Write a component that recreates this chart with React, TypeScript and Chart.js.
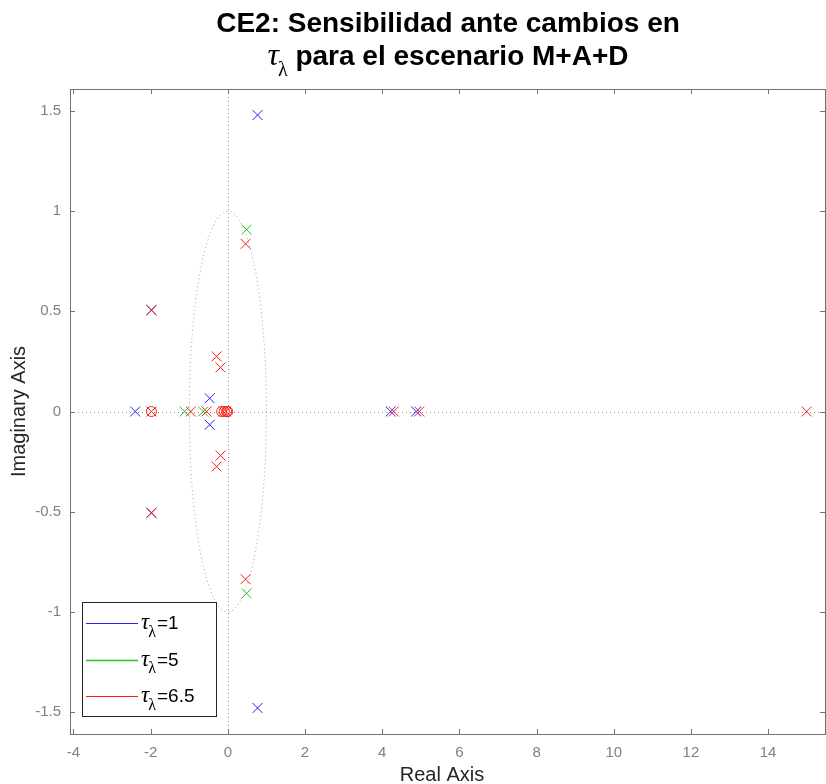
import React, { useEffect, useRef } from 'react';
import { Chart, registerables } from 'chart.js';
Chart.register(...registerables);

// ---- axis data ----
const xTicks = [-4, -2, 0, 2, 4, 6, 8, 10, 12, 14];
const yTicks = [-1.5, -1, -0.5, 0, 0.5, 1, 1.5];
const xMin = -4.09;
const xMax = 15.5;
const yMin = -1.61;
const yMax = 1.61;
const unitRadius = 1;

// ---- series: tau_lambda = 1 (poles) ----
const poles1Re = [0.77, 0.77, -1.98, -1.98, -2.4, -0.47, -0.47, 4.22, 4.88];
const poles1Im = [1.48, -1.48, 0.506, -0.506, 0, 0.066, -0.066, 0, 0];
// ---- series: tau_lambda = 5 (poles) ----
const poles5Re = [0.485, 0.485, -1.12, -0.64];
const poles5Im = [0.908, -0.908, 0, 0];
// ---- series: tau_lambda = 6.5 (poles) ----
const poles65Re = [0.46, 0.46, -0.29, -0.29, -0.19, -0.19, -0.96, -0.55, -0.12, -0.05, -1.98, -1.98, -1.98, 4.3, 4.96, 15.0];
const poles65Im = [0.837, -0.837, 0.275, -0.275, 0.22, -0.22, 0, 0, 0, 0, 0.506, -0.506, 0, 0, 0, 0];
// ---- zeros (tau_lambda = 6.5 drawn on top) ----
const zeros65Re = [-1.98, -0.16, -0.09, -0.03, 0.0];
const zeros65Im = [0, 0, 0, 0, 0];

const titleLine1 = 'CE2: Sensibilidad ante cambios en';
const titleLine2 = ' para el escenario M+A+D';
const legendValues = ['=1', '=5', '=6.5'];
const xLabel = 'Real Axis';
const yLabel = 'Imaginary Axis';

const colBlue = '#2222ff';
const colGreen = '#28c028';
const colRed = '#ff1a1a';
const sans = '"Liberation Sans", Arial, Helvetica, sans-serif';
const serif = '"Liberation Serif", "Times New Roman", serif';

const pts = (re: number[], im: number[]) => re.map((v, i) => ({ x: v, y: im[i] }));

function drawTauLambda(ctx: CanvasRenderingContext2D, x: number, y: number, size: number, subSize: number): number {
  ctx.font = `italic ${size}px ${serif}`;
  ctx.textAlign = 'left';
  ctx.fillText('τ', x, y);
  const wt = ctx.measureText('τ').width;
  ctx.font = `${subSize}px ${serif}`;
  ctx.fillText('λ', x + wt - 1, y + size * 0.33);
  const wl = ctx.measureText('λ').width;
  return wt - 1 + wl;
}
function tauLambdaWidth(ctx: CanvasRenderingContext2D, size: number, subSize: number): number {
  ctx.font = `italic ${size}px ${serif}`;
  const wt = ctx.measureText('τ').width;
  ctx.font = `${subSize}px ${serif}`;
  return wt - 1 + ctx.measureText('λ').width;
}

const overlay = {
  id: 'overlay',
  beforeDatasetsDraw(chart: any) {
    const { ctx, chartArea: a, scales } = chart;
    const xs = scales.x, ys = scales.y;
    ctx.save();
    ctx.strokeStyle = '#8c8c8c';
    ctx.lineWidth = 1;
    ctx.setLineDash([1, 3]);
    const x0 = Math.round(xs.getPixelForValue(0)) + 0.5;
    const y0 = Math.round(ys.getPixelForValue(0)) + 0.5;
    ctx.beginPath();
    ctx.moveTo(x0, a.top);
    ctx.lineTo(x0, a.bottom);
    ctx.moveTo(a.left, y0);
    ctx.lineTo(a.right, y0);
    ctx.stroke();
    const rx = xs.getPixelForValue(unitRadius) - xs.getPixelForValue(0);
    const ry = ys.getPixelForValue(0) - ys.getPixelForValue(unitRadius);
    ctx.strokeStyle = '#999999';
    ctx.beginPath();
    ctx.ellipse(xs.getPixelForValue(0), ys.getPixelForValue(0), rx, ry, 0, 0, Math.PI * 2);
    ctx.stroke();
    ctx.restore();
  },
  afterDraw(chart: any) {
    const { ctx, chartArea: a, scales } = chart;
    const xs = scales.x, ys = scales.y;
    ctx.save();
    // frame
    ctx.strokeStyle = '#737373';
    ctx.lineWidth = 1;
    ctx.setLineDash([]);
    ctx.strokeRect(Math.round(a.left) + 0.5, Math.round(a.top) + 0.5, Math.round(a.right - a.left) - 1, Math.round(a.bottom - a.top));
    // ticks (inward)
    const tl = 5;
    ctx.beginPath();
    xTicks.forEach((v) => {
      const px = Math.round(xs.getPixelForValue(v)) + 0.5;
      ctx.moveTo(px, a.bottom);
      ctx.lineTo(px, a.bottom - tl);
      ctx.moveTo(px, a.top);
      ctx.lineTo(px, a.top + tl);
    });
    yTicks.forEach((v) => {
      const py = Math.round(ys.getPixelForValue(v)) + 0.5;
      ctx.moveTo(a.left, py);
      ctx.lineTo(a.left + tl, py);
      ctx.moveTo(a.right - 1, py);
      ctx.lineTo(a.right - 1 - tl, py);
    });
    ctx.stroke();

    // legend
    const lx = a.left + 12, ly = a.bottom - 132, lw = 134, lh = 114;
    ctx.fillStyle = '#ffffff';
    ctx.fillRect(lx, ly, lw, lh);
    ctx.strokeStyle = '#262626';
    ctx.strokeRect(lx + 0.5, ly + 0.5, lw, lh);
    const cols = [colBlue, colGreen, colRed];
    legendValues.forEach((lab, i) => {
      const ry = ly + 21 + i * 36.7;
      ctx.strokeStyle = cols[i];
      ctx.lineWidth = i === 1 ? 1.5 : 1;
      ctx.beginPath();
      ctx.moveTo(lx + 4, Math.round(ry) + 0.5);
      ctx.lineTo(lx + 56, Math.round(ry) + 0.5);
      ctx.stroke();
      ctx.fillStyle = '#000';
      const w = drawTauLambda(ctx, lx + 59, ry + 6, 23, 16);
      ctx.font = `19px ${sans}`;
      ctx.textAlign = 'left';
      ctx.fillText(lab, lx + 60 + w, ry + 6);
    });

    // title
    const cx = (a.left + a.right) / 2;
    const TS = 28;
    ctx.fillStyle = '#000';
    ctx.font = `bold ${TS}px ${sans}`;
    ctx.textAlign = 'center';
    ctx.fillText(titleLine1, cx, 32);
    const tw = tauLambdaWidth(ctx, TS + 4, 20);
    ctx.font = `bold ${TS}px ${sans}`;
    const rw = ctx.measureText(titleLine2).width;
    const sx = cx - (tw + rw) / 2;
    const w2 = drawTauLambda(ctx, sx, 65, TS + 4, 20);
    ctx.font = `bold ${TS}px ${sans}`;
    ctx.textAlign = 'left';
    ctx.fillText(titleLine2, sx + w2, 65);

    // axis titles
    ctx.fillStyle = '#262626';
    ctx.font = `20px ${sans}`;
    ctx.textAlign = 'center';
    ctx.fillText(xLabel, cx - 6, 781);
    ctx.save();
    ctx.translate(25, (a.top + a.bottom) / 2);
    ctx.rotate(-Math.PI / 2);
    ctx.fillText(yLabel, 0, 0);
    ctx.restore();
    ctx.restore();
  },
};

export default function App() {
  const ref = useRef<HTMLCanvasElement | null>(null);
  useEffect(() => {
    if (!ref.current) return;
    const mk = (label: string, data: any[], color: string, style: string, radius: number, order: number) => ({
      label,
      data,
      showLine: false,
      pointStyle: style,
      pointRadius: radius,
      pointHoverRadius: radius,
      pointBorderWidth: 1,
      borderColor: color,
      backgroundColor: 'rgba(0,0,0,0)',
      pointBackgroundColor: 'rgba(0,0,0,0)',
      pointBorderColor: color,
      order,
    });
    const chart = new Chart(ref.current, {
      type: 'scatter',
      data: {
        datasets: [
          mk('tau=1', pts(poles1Re, poles1Im), colBlue, 'crossRot', 7, 4),
          mk('tau=5', pts(poles5Re, poles5Im), colGreen, 'crossRot', 7, 3),
          mk('tau=6.5', pts(poles65Re, poles65Im), colRed, 'crossRot', 7, 2),
          mk('zeros 6.5', pts(zeros65Re, zeros65Im), colRed, 'circle', 5, 1),
        ] as any,
      },
      options: {
        animation: false,
        responsive: true,
        maintainAspectRatio: false,
        layout: { autoPadding: false, padding: { top: 89, right: 0, left: 0, bottom: 0 } },
        plugins: { legend: { display: false }, title: { display: false }, tooltip: { enabled: false } },
        scales: {
          x: {
            type: 'linear',
            min: xMin,
            max: xMax,
            grid: { display: false, drawTicks: false },
            border: { display: false },
            afterBuildTicks: (s: any) => { s.ticks = xTicks.map((v) => ({ value: v })); },
            afterFit: (s: any) => { s.height = 50; s.paddingLeft = 0; s.paddingRight = 0; },
            ticks: { color: '#808080', font: { family: sans, size: 15 }, padding: 10, autoSkip: false, maxRotation: 0, callback: (v: any) => String(v) },
          },
          y: {
            type: 'linear',
            min: yMin,
            max: yMax,
            grid: { display: false, drawTicks: false },
            border: { display: false },
            afterBuildTicks: (s: any) => { s.ticks = yTicks.map((v) => ({ value: v })); },
            afterFit: (s: any) => { s.width = 70; s.paddingTop = 0; s.paddingBottom = 0; },
            ticks: { color: '#808080', font: { family: sans, size: 15 }, padding: 9, autoSkip: false, callback: (v: any) => String(v) },
          },
        },
      } as any,
      plugins: [overlay],
    });
    return () => chart.destroy();
  }, []);
  return (
    <div style={{ position: 'absolute', left: 0, top: 0, width: 826, height: 784, background: '#fff' }}>
      <canvas ref={ref} />
    </div>
  );
}
